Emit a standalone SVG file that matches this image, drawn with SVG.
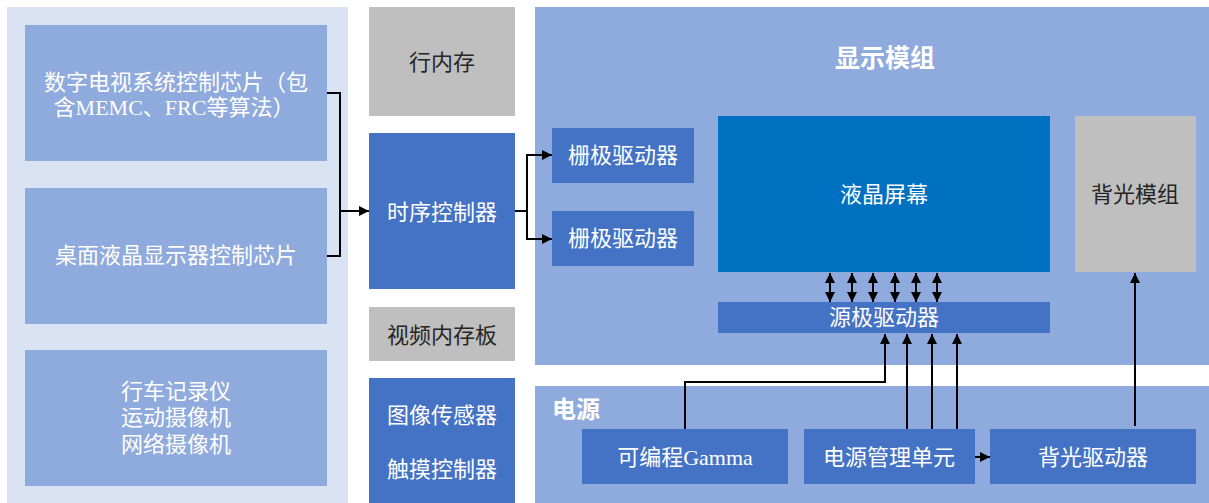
<svg xmlns="http://www.w3.org/2000/svg" width="1209" height="503" viewBox="0 0 1209 503">
<style>
text{font-family:"Liberation Serif","Noto Sans CJK SC",sans-serif;font-size:22px;text-anchor:middle}
.w{fill:#ffffff}
.d{fill:#262626}
.b{font-weight:bold}
.lt{fill:#DAE3F3}
.mb{fill:#8FAADC}
.bl{fill:#4472C4}
.lcd{fill:#0070C0}
.gr{fill:#BFBFBF}
.c{fill:none;stroke:#000;stroke-width:2}
</style>
<defs>
<marker id="ah" viewBox="0 0 10 10" refX="10" refY="5" markerWidth="11" markerHeight="10" markerUnits="userSpaceOnUse" orient="auto-start-reverse">
<path d="M0,0 L10,5 L0,10 z" fill="#000"/>
</marker>
</defs>
<g id="panels">
<rect class="lt" x="7" y="7" width="341" height="496"/>
<rect class="mb" x="535" y="7" width="674" height="358"/>
<rect class="mb" x="535" y="386" width="674" height="117"/>
</g>
<g id="display-title"><text class="w b" x="885" y="67" style="font-size:25px">显示模组</text></g>
<g id="power-title"><text class="w b" x="552" y="418" style="font-size:24px;text-anchor:start">电源</text></g>
<g id="n-dtv"><rect class="mb" x="25" y="25" width="302" height="136"/>
<text class="w" x="176" y="90">数字电视系统控制芯片（包</text>
<text class="w" x="174" y="115">含MEMC、FRC等算法）</text></g>
<g id="n-desktop"><rect class="mb" x="25" y="188" width="302" height="136"/>
<text class="w" x="176" y="263">桌面液晶显示器控制芯片</text></g>
<g id="n-camera"><rect class="mb" x="25" y="350" width="302" height="136"/>
<text class="w" x="176" y="399">行车记录仪</text>
<text class="w" x="176" y="425">运动摄像机</text>
<text class="w" x="176" y="452">网络摄像机</text></g>
<g id="n-linemem"><rect class="gr" x="369" y="7" width="146" height="109"/>
<text class="d" x="442" y="70">行内存</text></g>
<g id="n-tcon"><rect class="bl" x="369" y="133" width="146" height="156"/>
<text class="w" x="442" y="220">时序控制器</text></g>
<g id="n-vmem"><rect class="gr" x="369" y="307" width="146" height="54"/>
<text class="d" x="442" y="343">视频内存板</text></g>
<g id="n-sensor"><rect class="bl" x="369" y="378" width="146" height="125"/>
<text class="w" x="442" y="423">图像传感器</text>
<text class="w" x="442" y="477">触摸控制器</text></g>
<g id="n-gate1"><rect class="bl" x="552" y="128" width="142" height="55"/>
<text class="w" x="623" y="163">栅极驱动器</text></g>
<g id="n-gate2"><rect class="bl" x="552" y="211" width="142" height="55"/>
<text class="w" x="623" y="246">栅极驱动器</text></g>
<g id="n-lcd"><rect class="lcd" x="718" y="116" width="332" height="156"/>
<text class="w" x="884" y="202">液晶屏幕</text></g>
<g id="n-backlight"><rect class="gr" x="1075" y="116" width="121" height="156"/>
<text class="d" x="1135" y="202">背光模组</text></g>
<g id="n-source"><rect class="bl" x="718" y="302" width="332" height="31"/>
<text class="w" x="884" y="325">源极驱动器</text></g>
<g id="n-gamma"><rect class="bl" x="582" y="429" width="206" height="55"/>
<text class="w" x="685" y="465">可编程Gamma</text></g>
<g id="n-pmu"><rect class="bl" x="804" y="429" width="171" height="55"/>
<text class="w" x="889" y="465">电源管理单元</text></g>
<g id="n-bldrv"><rect class="bl" x="990" y="429" width="206" height="55"/>
<text class="w" x="1093" y="465">背光驱动器</text></g>
<g id="connectors">
<polyline class="c" points="327,93 340,93 340,256 327,256"/>
<line class="c" x1="340" y1="211" x2="369" y2="211" marker-end="url(#ah)"/>
<line class="c" x1="515" y1="211" x2="527" y2="211"/>
<polyline class="c" points="527,155 527,239"/>
<line class="c" x1="526" y1="155" x2="552" y2="155" marker-end="url(#ah)"/>
<line class="c" x1="526" y1="239" x2="552" y2="239" marker-end="url(#ah)"/>
<line class="c" x1="830" y1="273" x2="830" y2="302" marker-start="url(#ah)" marker-end="url(#ah)"/>
<line class="c" x1="852" y1="273" x2="852" y2="302" marker-start="url(#ah)" marker-end="url(#ah)"/>
<line class="c" x1="873" y1="273" x2="873" y2="302" marker-start="url(#ah)" marker-end="url(#ah)"/>
<line class="c" x1="895" y1="273" x2="895" y2="302" marker-start="url(#ah)" marker-end="url(#ah)"/>
<line class="c" x1="916" y1="273" x2="916" y2="302" marker-start="url(#ah)" marker-end="url(#ah)"/>
<line class="c" x1="937" y1="273" x2="937" y2="302" marker-start="url(#ah)" marker-end="url(#ah)"/>
<polyline class="c" points="685,429 685,382 885,382 885,334" marker-end="url(#ah)"/>
<line class="c" x1="907" y1="429" x2="907" y2="334" marker-end="url(#ah)"/>
<line class="c" x1="932" y1="429" x2="932" y2="334" marker-end="url(#ah)"/>
<line class="c" x1="957" y1="429" x2="957" y2="334" marker-end="url(#ah)"/>
<line class="c" x1="1135" y1="426" x2="1135" y2="273" marker-end="url(#ah)"/>
<line class="c" x1="975" y1="457" x2="990" y2="457" marker-end="url(#ah)"/>
</g>
</svg>
